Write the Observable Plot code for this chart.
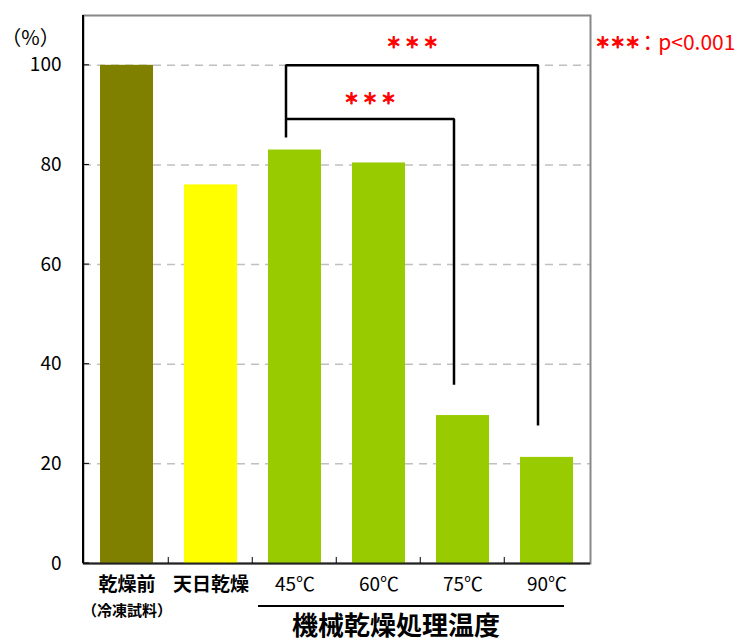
<!DOCTYPE html>
<html><head><meta charset="utf-8">
<script src="https://cdn.jsdelivr.net/npm/d3@7"></script>
<script src="https://cdn.jsdelivr.net/npm/@observablehq/plot@0.6"></script>
<style>body{margin:0;background:#fff} svg{display:block}</style>
</head><body><div id="chart"></div>
<script>
// ---- data ----
const categories = ["乾燥前", "天日乾燥", "45℃", "60℃", "75℃", "90℃"];
const values = [100, 76, 83, 80.4, 29.7, 21.3];
const barColors = ["#808000", "#FFFF00", "#99CC00", "#99CC00", "#99CC00", "#99CC00"];
const yTicks = [0, 20, 40, 60, 80, 100];
const gridTicks = [20, 40, 60, 80, 100];
const plainCats = ["乾燥前", "天日乾燥"];
const groupCats = ["45℃", "60℃", "75℃", "90℃"];
const subLabelCat = ["乾燥前"];
const subLabelText = ["（冷凍試料）"];
const groupLabel = ["機械乾燥処理温度"];
const unitLabel = ["（%）"];
const starText = "＊ ＊ ＊";
const legendStars = ["＊＊＊"];
const legendText = ["：p<0.001"];
const bracketOuterCats = ["45℃", "45℃", "90℃", "90℃"];
const bracketOuterVals = [85.5, 100, 100, 27.7];
const bracketInnerCats = ["45℃", "75℃", "75℃"];
const bracketInnerVals = [89.2, 89.2, 35.9];
const starOuter = [{cat: "60℃", value: 104.4}];
const starInner = [{cat: "60℃", value: 93.2}];
const legendPos = [{cat: "90℃", value: 104.4}];

// ---- layout ----
const W = 754, H = 640, mL = 83, mR = 164, mT = 15, mB = 77;
const step = (W - mL - mR) / categories.length;
const font = '"Noto Sans CJK JP", "Noto Sans", sans-serif';

const data = categories.map((c, i) => ({cat: c, value: values[i], color: barColors[i]}));
const brackets = [
  ...bracketOuterCats.map((c, i) => ({cat: c, value: bracketOuterVals[i], g: "outer"})),
  ...bracketInnerCats.map((c, i) => ({cat: c, value: bracketInnerVals[i], g: "inner"}))
];

const decor = (index, scales) => {
  const x = scales.x, y = scales.y;
  const bw = x.bandwidth ? x.bandwidth() : step * (1 - 0.373);
  const g = d3.create("svg:g");
  g.append("line").attr("x1", mL).attr("x2", mL).attr("y1", y(110)).attr("y2", y(0))
    .attr("stroke", "#000").attr("stroke-width", 2);
  categories.slice(1).forEach(c => {
    const xb = x(c) - (step - bw) / 2;
    g.append("line").attr("x1", xb).attr("x2", xb).attr("y1", y(0)).attr("y2", y(0) - 6)
      .attr("stroke", "#000").attr("stroke-width", 1);
  });
  yTicks.forEach(t => g.append("line").attr("x1", mL).attr("x2", mL + 6)
    .attr("y1", y(t)).attr("y2", y(t)).attr("stroke", "#000").attr("stroke-width", 1));
  const ux1 = x(groupCats[0]) - 10, ux2 = x(groupCats[groupCats.length - 1]) + bw - 9;
  g.append("line").attr("x1", ux1).attr("x2", ux2).attr("y1", y(0) + 43).attr("y2", y(0) + 43)
    .attr("stroke", "#000").attr("stroke-width", 2);
  return g.node();
};

const chart = Plot.plot({
  width: W, height: H,
  marginLeft: mL, marginRight: mR, marginTop: mT, marginBottom: mB,
  style: {fontFamily: font, background: "#fff", overflow: "visible"},
  x: {domain: categories, paddingInner: 0.373, paddingOuter: 0.1865, axis: null},
  y: {domain: [0, 110], axis: null},
  color: {type: "identity"},
  marks: [
    Plot.gridY(gridTicks, {stroke: "#c0c0c0", strokeOpacity: 1, strokeWidth: 1.5, strokeDasharray: "8,6"}),
    Plot.frame({stroke: "#888", strokeWidth: 2}),
    Plot.barY(data, {x: "cat", y: "value", fill: "color"}),
    Plot.ruleY([0], {stroke: "#222", strokeWidth: 2}),
    Plot.axisY({ticks: yTicks, tickSize: 0, tickPadding: 22, fontSize: 19, fill: "#000", label: null}),
    Plot.line(brackets, {x: "cat", y: "value", z: "g", stroke: "#000", strokeWidth: 2.5, dx: -9,
      strokeLinejoin: "miter", strokeLinecap: "butt"}),
    Plot.text(starOuter, {x: "cat", y: "value", text: () => starText, dx: step / 2 - 9,
      fill: "#ff0000", stroke: "#ff0000", strokeWidth: 1, fontSize: 15, fontWeight: "bold"}),
    Plot.text(starInner, {x: "cat", y: "value", text: () => starText, dx: -9,
      fill: "#ff0000", stroke: "#ff0000", strokeWidth: 1, fontSize: 15, fontWeight: "bold"}),
    Plot.text(legendPos, {x: "cat", y: "value", text: () => legendStars[0], dx: step / 2 + 6,
      textAnchor: "start", fill: "#ff0000", stroke: "#ff0000", strokeWidth: 1, fontSize: 15, fontWeight: "bold"}),
    Plot.text(legendPos, {x: "cat", y: "value", text: () => legendText[0], dx: step / 2 + 48,
      textAnchor: "start", fill: "#ff0000", fontSize: 21}),
    Plot.text(plainCats, {x: d => d, text: d => d, frameAnchor: "bottom", dy: 27,
      fontSize: 19, fontWeight: "bold", fill: "#000"}),
    Plot.text(groupCats, {x: d => d, text: d => d, frameAnchor: "bottom", dy: 27,
      fontSize: 19, fill: "#000"}),
    Plot.text(subLabelCat, {x: d => d, text: (d, i) => subLabelText[i], frameAnchor: "bottom", dy: 52,
      fontSize: 15, fontWeight: "bold", fill: "#000"}),
    Plot.text(groupLabel, {x: () => "60℃", text: d => d, frameAnchor: "bottom", dx: 17, dy: 71,
      fontSize: 26, fontWeight: "bold", fill: "#000"}),
    Plot.text(unitLabel, {frameAnchor: "top-left", text: d => d, textAnchor: "middle", dx: -53, dy: 15,
      fontSize: 20, fill: "#000"}),
    decor
  ]
});
document.getElementById("chart").appendChild(chart);
</script>
</body></html>
